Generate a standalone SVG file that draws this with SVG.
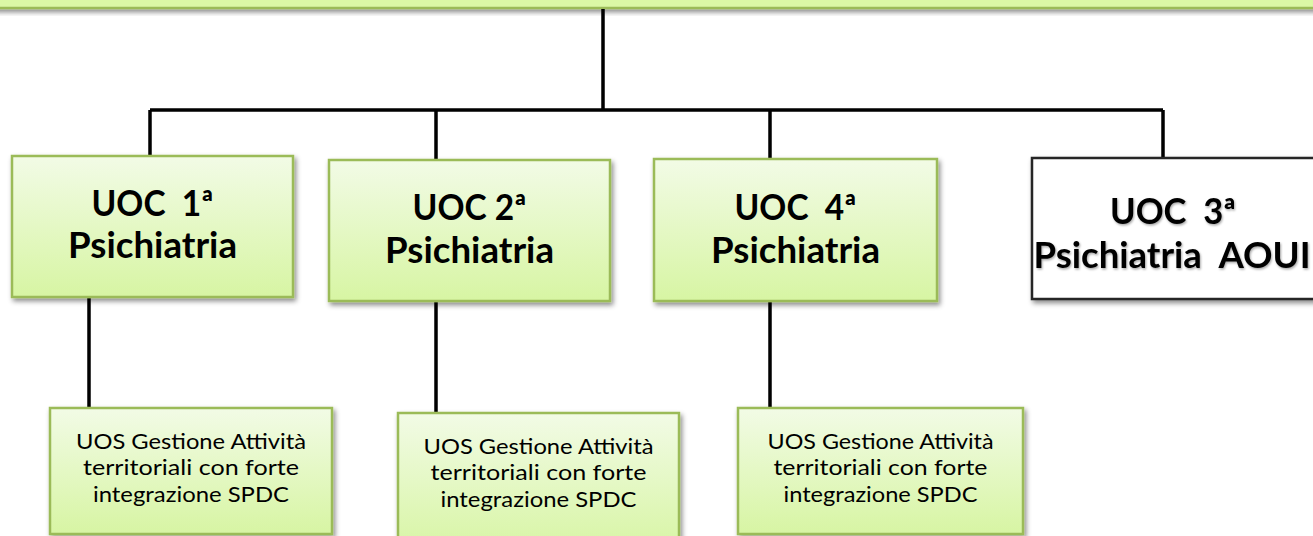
<svg xmlns="http://www.w3.org/2000/svg" width="1313" height="536" viewBox="0 0 1313 536">
<defs>
<linearGradient id="g" x1="0" y1="0" x2="0" y2="1">
<stop offset="0" stop-color="#f2fbe6"/>
<stop offset="1" stop-color="#d7f5a3"/>
</linearGradient>
<filter id="sh" x="-10%" y="-10%" width="125%" height="130%">
<feDropShadow dx="2" dy="3" stdDeviation="2.5" flood-color="#000" flood-opacity="0.45"/>
</filter>
<filter id="tsh" x="-5%" y="-20%" width="110%" height="140%">
<feDropShadow dx="1" dy="1.5" stdDeviation="1.2" flood-color="#000" flood-opacity="0.35"/>
</filter>
</defs>
<style>
.gbox{fill:url(#g);stroke:#9bbb59;stroke-width:2.5}
.wbox{fill:#ffffff;stroke:#262626;stroke-width:2.5}
.big{font-family:Lato,"Liberation Sans",sans-serif;font-weight:bold;font-size:35.5px;fill:#000;text-anchor:middle}
.small{font-family:Lato,"Liberation Sans",sans-serif;font-size:21px;fill:#000;text-anchor:middle}
.conn{stroke:#000;stroke-width:3.5;fill:none}
</style>
<g id="top">
<rect x="-10" y="-30" width="1333" height="38" fill="#dbf8a6" stroke="#9bbb59" stroke-width="2.5" filter="url(#sh)"/>
</g>
<g id="connectors">
<path class="conn" d="M603 9V110M150 110H1163M150 110V156M436 110V160M770 110V159M1163 110V158"/>
<path class="conn" d="M89 298V408M436 302V413M770 302V408"/>
</g>
<g id="uoc1">
<rect class="gbox" x="12" y="156" width="281" height="141" filter="url(#sh)"/>
<text class="big" x="152.5" y="216" textLength="122" lengthAdjust="spacingAndGlyphs" xml:space="preserve">UOC  1ª</text>
<text class="big" x="152.5" y="258" textLength="169" lengthAdjust="spacingAndGlyphs">Psichiatria</text>
</g>
<g id="uoc2">
<rect class="gbox" x="329" y="160" width="281" height="141" filter="url(#sh)"/>
<text class="big" x="469.5" y="220" textLength="114" lengthAdjust="spacingAndGlyphs">UOC 2ª</text>
<text class="big" x="469.5" y="263" textLength="169" lengthAdjust="spacingAndGlyphs">Psichiatria</text>
</g>
<g id="uoc4">
<rect class="gbox" x="654" y="159" width="283" height="142" filter="url(#sh)"/>
<text class="big" x="795.5" y="220" textLength="122" lengthAdjust="spacingAndGlyphs" xml:space="preserve">UOC  4ª</text>
<text class="big" x="795.5" y="263" textLength="169" lengthAdjust="spacingAndGlyphs">Psichiatria</text>
</g>
<g id="uoc3">
<rect class="wbox" x="1032" y="158" width="285" height="141" filter="url(#sh)"/>
<text class="big" x="1173" y="224" textLength="126" lengthAdjust="spacingAndGlyphs" xml:space="preserve" filter="url(#tsh)">UOC  3ª</text>
<text class="big" x="1172" y="268" textLength="277" lengthAdjust="spacingAndGlyphs" xml:space="preserve" filter="url(#tsh)">Psichiatria  AOUI</text>
</g>
<g id="uos1">
<rect class="gbox" x="50" y="408" width="282" height="126" filter="url(#sh)"/>
<text class="small" x="191" y="449" textLength="230" lengthAdjust="spacingAndGlyphs">UOS Gestione Attività</text>
<text class="small" x="191" y="475" textLength="216" lengthAdjust="spacingAndGlyphs">territoriali con forte</text>
<text class="small" x="191" y="502" textLength="196" lengthAdjust="spacingAndGlyphs">integrazione SPDC</text>
</g>
<g id="uos2">
<rect class="gbox" x="398" y="413" width="281" height="140" filter="url(#sh)"/>
<text class="small" x="538.5" y="454" textLength="230" lengthAdjust="spacingAndGlyphs">UOS Gestione Attività</text>
<text class="small" x="538.5" y="480" textLength="216" lengthAdjust="spacingAndGlyphs">territoriali con forte</text>
<text class="small" x="538.5" y="507" textLength="196" lengthAdjust="spacingAndGlyphs">integrazione SPDC</text>
</g>
<g id="uos3">
<rect class="gbox" x="738" y="408" width="285" height="126" filter="url(#sh)"/>
<text class="small" x="880.5" y="449" textLength="226" lengthAdjust="spacingAndGlyphs">UOS Gestione Attività</text>
<text class="small" x="880.5" y="475" textLength="214" lengthAdjust="spacingAndGlyphs">territoriali con forte</text>
<text class="small" x="880.5" y="502" textLength="194" lengthAdjust="spacingAndGlyphs">integrazione SPDC</text>
</g>
</svg>
